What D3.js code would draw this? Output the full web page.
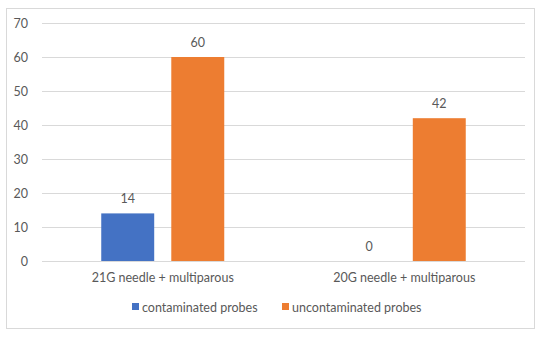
<!DOCTYPE html>
<html><head><meta charset="utf-8">
<script src="https://cdn.jsdelivr.net/npm/d3@7"></script>
<style>body{margin:0;background:#fff}text{font-family:Lato,"Open Sans",sans-serif;fill:#595959}</style>
</head><body><svg id="c" width="550" height="338"></svg>
<script>
const categories = ["21G needle + multiparous", "20G needle + multiparous"];
const seriesNames = ["contaminated probes", "uncontaminated probes"];
const contaminated = [14, 0];
const uncontaminated = [60, 42];
const yTicks = [0, 10, 20, 30, 40, 50, 60, 70];
const colors = ["#4472C4", "#ED7D31"];
const FS = 12.5;

const svg = d3.select("#c");
svg.append("rect").attr("x",6.5).attr("y",8.5).attr("width",528).attr("height",320)
  .attr("fill","#fff").attr("stroke","#d9d9d9");

const m = {l:42, r:525, t:23, b:261};
const y = d3.scaleLinear().domain([0,70]).range([m.b, m.t]);
const x0 = d3.scaleBand().domain(categories).range([m.l, m.r]).paddingInner(0).paddingOuter(0);
const x1 = d3.scaleBand().domain(seriesNames).range([x0.bandwidth()/2-61.5, x0.bandwidth()/2+61.5]).paddingInner(15/123*2).paddingOuter(0);

const yAxis = d3.axisLeft(y).tickValues(yTicks).tickSize(-(m.r-m.l)).tickPadding(14);
const gy = svg.append("g").attr("transform",`translate(${m.l},0)`).call(yAxis);
gy.select(".domain").remove();
gy.selectAll(".tick line").attr("stroke","#d9d9d9");
gy.selectAll(".tick text").attr("font-size",FS).attr("font-family","Lato");

const data = categories.map((c,i)=>({c, vals:[contaminated[i], uncontaminated[i]]}));
const g = svg.append("g");
data.forEach(d=>{
  d.vals.forEach((v,j)=>{
    const xx = x0(d.c) + x1(seriesNames[j]);
    if (v>0) g.append("rect").attr("x",xx).attr("y",y(v)).attr("width",x1.bandwidth()).attr("height",y(0)-y(v)).attr("fill",colors[j]);
    g.append("text").attr("x",xx+x1.bandwidth()/2).attr("y",y(v)-10).attr("text-anchor","middle").attr("font-size",FS).text(v);
  });
});

const xAxis = d3.axisBottom(x0).tickSize(0).tickPadding(12);
const gx = svg.append("g").attr("transform",`translate(0,${m.b})`).call(xAxis);
gx.select(".domain").remove();
gx.selectAll(".tick text").attr("font-size",FS).attr("font-family","Lato");

const legX = [132, 282];
seriesNames.forEach((s,j)=>{
  svg.append("rect").attr("x",legX[j]).attr("y",303).attr("width",7).attr("height",7).attr("fill",colors[j]);
  svg.append("text").attr("x",legX[j]+10).attr("y",311.5).attr("font-size",FS).text(s);
});
</script></body></html>
